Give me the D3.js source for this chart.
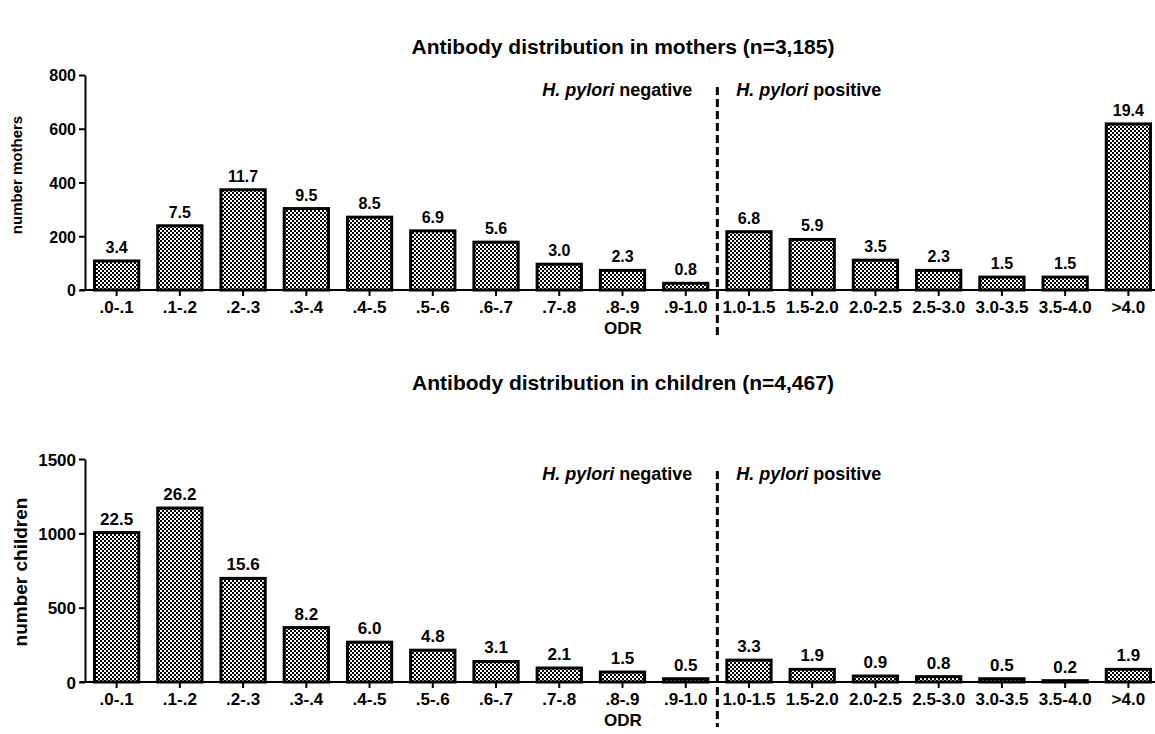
<!DOCTYPE html>
<meta charset="utf-8">
<style>
  body { margin: 0; background: #fff; }
  text { font-family: "Liberation Sans", Arial, sans-serif; font-weight: bold; fill: #000; }
  .domain, .tick line { stroke: #000; stroke-width: 2px; }
</style>
<body>
<script src="https://cdn.jsdelivr.net/npm/d3@7"></script>
<script>

  var categories = [".0-.1", ".1-.2", ".2-.3", ".3-.4", ".4-.5", ".5-.6", ".6-.7", ".7-.8", ".8-.9", ".9-1.0",
    "1.0-1.5", "1.5-2.0", "2.0-2.5", "2.5-3.0", "3.0-3.5", "3.5-4.0", ">4.0"];

  var mothersCount = [108, 239, 373, 303, 271, 220, 178, 96, 73, 25, 217, 188, 111, 73, 48, 48, 618];
  var mothersPct = ["3.4", "7.5", "11.7", "9.5", "8.5", "6.9", "5.6", "3.0", "2.3", "0.8",
    "6.8", "5.9", "3.5", "2.3", "1.5", "1.5", "19.4"];

  var childrenCount = [1005, 1170, 697, 366, 268, 214, 138, 94, 67, 22, 147, 85, 40, 36, 22, 9, 85];
  var childrenPct = ["22.5", "26.2", "15.6", "8.2", "6.0", "4.8", "3.1", "2.1", "1.5", "0.5",
    "3.3", "1.9", "0.9", "0.8", "0.5", "0.2", "1.9"];

  var mothersTicks = [0, 200, 400, 600, 800];
  var childrenTicks = [0, 500, 1000, 1500];

  var width = 1155, height = 734;

  var svg = d3.select("body").append("svg")
    .attr("width", width)
    .attr("height", height);

  // checker fill for bars
  var pat = svg.append("defs").append("pattern")
    .attr("id", "checker")
    .attr("patternUnits", "userSpaceOnUse")
    .attr("width", 4).attr("height", 4);
  pat.append("rect").attr("width", 4).attr("height", 4).attr("fill", "#fff");
  pat.append("rect").attr("width", 2).attr("height", 2).attr("fill", "#000");
  pat.append("rect").attr("x", 2).attr("y", 2).attr("width", 2).attr("height", 2).attr("fill", "#000");

  var x = d3.scaleBand()
    .domain(categories)
    .range([85, 1160])
    .paddingInner(0.3)
    .paddingOuter(0.15);

  function panel(opt) {
    var y = d3.scaleLinear().domain([0, opt.max]).range([opt.bottom, opt.top]);
    var g = svg.append("g");

    g.append("text")
      .attr("x", 623).attr("y", opt.titleY)
      .attr("text-anchor", "middle")
      .style("font-size", "21px")
      .text(opt.title);

    g.selectAll("rect.bar")
      .data(opt.counts)
      .enter().append("rect")
      .attr("class", "bar")
      .attr("x", function (d, i) { return x(categories[i]); })
      .attr("width", x.bandwidth())
      .attr("y", function (d) { return y(d); })
      .attr("height", function (d) { return y(0) - y(d); })
      .attr("fill", "url(#checker)")
      .attr("stroke", "#000")
      .attr("stroke-width", 3);

    g.selectAll("text.val")
      .data(opt.counts)
      .enter().append("text")
      .attr("class", "val")
      .attr("x", function (d, i) { return x(categories[i]) + x.bandwidth() / 2; })
      .attr("y", function (d) { return y(d) - 8; })
      .attr("text-anchor", "middle")
      .style("font-size", opt.valSize + "px")
      .text(function (d, i) { return opt.pct[i]; });

    var ax = g.append("g")
      .attr("transform", "translate(0," + opt.bottom + ")")
      .call(d3.axisBottom(x).tickSize(6).tickSizeOuter(0));
    ax.select(".domain").attr("d", "M80,0H1160");
    ax.selectAll("text").style("font-size", "17px").attr("dy", "0.8em");

    var ay = g.append("g")
      .attr("transform", "translate(85,0)")
      .call(d3.axisLeft(y).tickValues(opt.ticks).tickFormat(d3.format("d")).tickSize(6).tickSizeOuter(0));
    ay.selectAll("text").style("font-size", opt.tickSize + "px").attr("dy", "0.36em");

    g.append("text")
      .attr("x", 623).attr("y", opt.bottom + 44)
      .attr("text-anchor", "middle")
      .style("font-size", "17px")
      .text("ODR");

    g.append("text")
      .attr("transform", "translate(" + opt.yLabelX + "," + opt.yLabelY + ") rotate(-90)")
      .attr("text-anchor", "middle")
      .style("font-size", opt.yLabelSize + "px")
      .text(opt.yLabel);

    // split line between negative and positive
    var splitX = (x(categories[9]) + x.bandwidth() + x(categories[10])) / 2;
    g.append("line")
      .attr("x1", splitX).attr("x2", splitX)
      .attr("y1", opt.top + 12).attr("y2", opt.bottom + 45)
      .attr("stroke", "#000")
      .attr("stroke-width", 3)
      .attr("stroke-dasharray", "8,4");

    var neg = g.append("text")
      .attr("x", splitX - 25).attr("y", opt.top + 21)
      .attr("text-anchor", "end")
      .style("font-size", "18px");
    neg.append("tspan").style("font-style", "italic").text("H. pylori");
    neg.append("tspan").text(" negative");

    var pos = g.append("text")
      .attr("x", splitX + 19).attr("y", opt.top + 21)
      .style("font-size", "18px");
    pos.append("tspan").style("font-style", "italic").text("H. pylori");
    pos.append("tspan").text(" positive");
  }

  panel({
    title: "Antibody distribution in mothers (n=3,185)", titleY: 54,
    counts: mothersCount, pct: mothersPct, ticks: mothersTicks, max: 800,
    top: 75, bottom: 290, valSize: 16, tickSize: 16,
    yLabel: "number mothers", yLabelX: 22, yLabelY: 175, yLabelSize: 15
  });

  panel({
    title: "Antibody distribution in children (n=4,467)", titleY: 390,
    counts: childrenCount, pct: childrenPct, ticks: childrenTicks, max: 1500,
    top: 459, bottom: 682, valSize: 17, tickSize: 17,
    yLabel: "number children", yLabelX: 27, yLabelY: 572, yLabelSize: 19
  });

</script>
</body>
</html>
